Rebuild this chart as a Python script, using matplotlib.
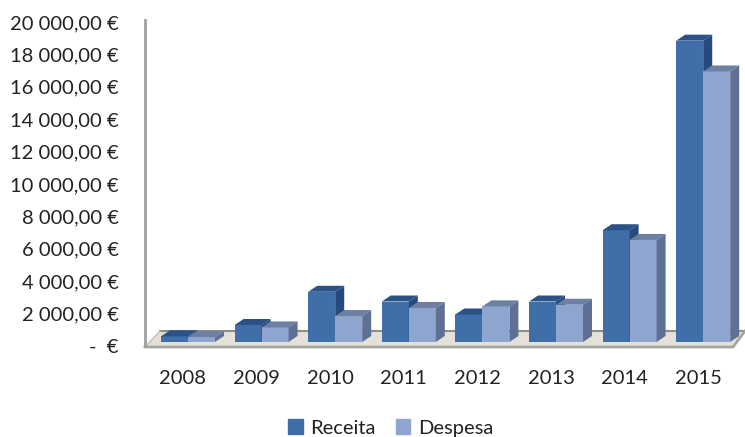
import numpy as np
import matplotlib.pyplot as plt
from matplotlib.patches import Polygon, Patch

plt.rcParams['font.family'] = ['Lato', 'DejaVu Sans']

years = ['2008', '2009', '2010', '2011', '2012', '2013', '2014', '2015']
receita = [350, 1050, 3100, 2500, 1700, 2500, 6900, 18600]
despesa = [300, 900, 1600, 2100, 2200, 2300, 6300, 16700]
ticks = list(range(0, 20001, 2000))
tick_labels = ['-  €'] + [f'{t // 1000} 000,00 €' for t in ticks[1:]]

W, H = 745, 437
px_x = 73.6       # one category, in pixels
px_y = 16.2 / 1000  # one euro, in pixels

fig = plt.figure(figsize=(W / 100, H / 100), dpi=100)
ax = fig.add_axes([145 / W, (H - 346) / H, 600 / W, 326 / H])
ax.set_xlim(-43 / px_x, (745 - 188) / px_x)
ax.set_ylim(0, 326 / px_y)

width = 27 / px_x
dx = 9 / px_x
dy = 6 / px_y
base = 4 / px_y


def bar3d(x, val, front, top, side):
    ax.bar(x, val, width, bottom=base, color=front, align='edge', zorder=3)
    y1 = base + val
    ax.add_patch(Polygon([(x, y1), (x + dx, y1 + dy), (x + width + dx, y1 + dy), (x + width, y1)],
                         color=top, lw=0, zorder=3))
    ax.add_patch(Polygon([(x + width, base), (x + width + dx, base + dy), (x + width + dx, y1 + dy), (x + width, y1)],
                         color=side, lw=0, zorder=3))


# floor
y_front = -1 / px_y
y_back = 15 / px_y
floor = [(-43 / px_x, y_front), (-28 / px_x, y_back), (557 / px_x, y_back), (545 / px_x, y_front)]
ax.add_patch(Polygon(floor, facecolor='#e6e1d6', edgecolor='none', zorder=1, clip_on=False))
ax.plot([-28 / px_x, 557 / px_x], [y_back, y_back], color='#8f8f88', lw=1.5, zorder=2, clip_on=False)
ax.plot([-43 / px_x, 545 / px_x, 557 / px_x], [y_front, y_front, y_back], color='#a6a6a0', lw=2, zorder=2, clip_on=False)
ax.plot([-43 / px_x, -28 / px_x], [y_front, y_back], color='#c0c0b8', lw=1, zorder=2, clip_on=False)

for i in range(len(years)):
    bar3d(i - width, receita[i], '#3f6ea8', '#2b5286', '#264a7c')
    bar3d(i, despesa[i], '#8ea5cf', '#6d7fa3', '#5f7096')

# year labels sit a little left of the bars in the reference
ax.set_xticks([i - 5 / px_x for i in range(len(years))])
ax.set_xticklabels(years, fontsize=14.5, color='#222222')
ax.set_yticks(ticks)
ax.set_yticklabels(tick_labels, fontsize=14.5, color='#222222')
ax.tick_params(axis='x', length=0, pad=17)
ax.tick_params(axis='y', length=0, pad=19)

for s in ['top', 'right', 'bottom']:
    ax.spines[s].set_visible(False)
ax.spines['left'].set_color('#a0a0a0')
ax.spines['left'].set_linewidth(2)
ax.patch.set_alpha(0)

handles = [Patch(color='#3f6ea8', label='Receita'), Patch(color='#8ea5cf', label='Despesa')]
fig.legend(handles=handles, loc='center', bbox_to_anchor=(391 / W, (H - 428) / H), ncol=2, frameon=False,
           fontsize=14.5, handlelength=0.7, handleheight=0.7, handletextpad=0.4, columnspacing=1.0,
           labelcolor='#222222')

fig.savefig('out.png', dpi=100)
